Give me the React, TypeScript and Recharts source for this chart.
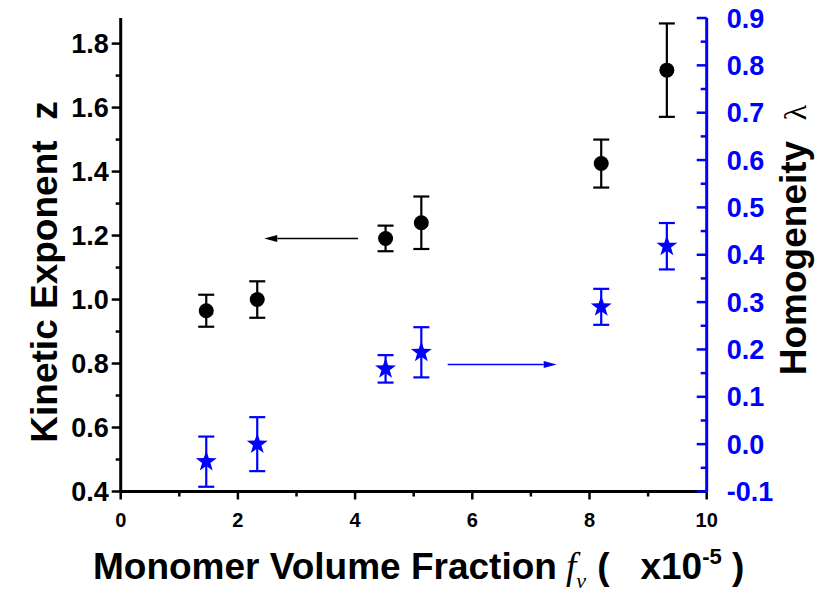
import React from 'react';
import { ComposedChart, Scatter, XAxis, YAxis, ErrorBar, ReferenceLine } from 'recharts';

// monomer volume fraction (x1e-5)
const fv = [1.46, 2.33, 4.52, 5.13, 8.2, 9.32];
// kinetic exponent z
const kinetic = [0.965, 1.0, 1.191, 1.24, 1.425, 1.717];
const kineticErr = [0.05, 0.057, 0.04, 0.082, 0.075, 0.146];
// homogeneity lambda
const homogeneity = [-0.037, 0.0, 0.159, 0.194, 0.29, 0.418];
const homogeneityErr = [0.053, 0.057, 0.029, 0.053, 0.038, 0.049];

const xTicks = [0, 1, 2, 3, 4, 5, 6, 7, 8, 9, 10];
const leftTicks = [0.4, 0.5, 0.6, 0.7, 0.8, 0.9, 1.0, 1.1, 1.2, 1.3, 1.4, 1.5, 1.6, 1.7, 1.8];
const rightTicks = [-0.1, -0.05, 0, 0.05, 0.1, 0.15, 0.2, 0.25, 0.3, 0.35, 0.4, 0.45, 0.5, 0.55, 0.6, 0.65, 0.7, 0.75, 0.8, 0.85, 0.9];

// arrows pointing at the axis each series belongs to
const blackArrow = { from: [4.05, 1.191], to: [2.45, 1.191] };
const blueArrow = { from: [5.58, 0.168], to: [7.44, 0.168] };

const kineticData = fv.map((x, i) => ({ x, y: kinetic[i], err: kineticErr[i] }));
const homogeneityData = fv.map((x, i) => ({ x, y: homogeneity[i], err: homogeneityErr[i] }));

const BLUE = '#0000FF';
const FONT = 'Arial, "Liberation Sans", sans-serif';
const SERIF = '"Liberation Serif", "Times New Roman", serif';

const BottomTick = (props: any) => {
  const { x, y, payload } = props;
  const v = payload.value;
  const major = v % 2 === 0;
  return (
    <g>
      <line x1={x} y1={y} x2={x} y2={y + (major ? 8 : 5)} stroke="#000" strokeWidth={2.5} />
      {major && (
        <text x={x} y={y + 35} textAnchor="middle" fontFamily={FONT} fontWeight="bold" fontSize={20} fill="#000">
          {v}
        </text>
      )}
    </g>
  );
};

const TopTick = (props: any) => {
  const { x, y, payload } = props;
  const major = payload.value % 2 === 0;
  return <line x1={x} y1={y} x2={x} y2={y + (major ? 8 : 5)} stroke="#000" strokeWidth={2.5} />;
};

const LeftTick = (props: any) => {
  const { x, y, payload } = props;
  const v = payload.value;
  const major = Math.round(v * 10) % 2 === 0;
  return (
    <g>
      <line x1={x} y1={y} x2={x - (major ? 9 : 5)} y2={y} stroke="#000" strokeWidth={2.5} />
      {major && (
        <text x={x - 12} y={y + 9.5} textAnchor="end" fontFamily={FONT} fontWeight="bold" fontSize={27} fill="#000">
          {v.toFixed(1)}
        </text>
      )}
    </g>
  );
};

const RightTick = (props: any) => {
  const { x, y, payload } = props;
  const v = payload.value;
  const major = Math.round(v * 100) % 10 === 0;
  return (
    <g>
      <line x1={x} y1={y} x2={x - (major ? 10 : 6)} y2={y} stroke={BLUE} strokeWidth={2.5} />
      {major && (
        <text x={x + 20} y={y + 9.5} textAnchor="start" fontFamily={FONT} fontWeight="bold" fontSize={27} fill={BLUE}>
          {v.toFixed(1)}
        </text>
      )}
    </g>
  );
};

const Dot = (p: any) => <circle cx={p.cx} cy={p.cy} r={7.5} fill="#000" />;

const Star = (p: any) => {
  const pts: string[] = [];
  for (let k = 0; k < 10; k++) {
    const r = k % 2 === 0 ? 11 : 4.4;
    const a = -Math.PI / 2 + (k * Math.PI) / 5;
    pts.push(`${p.cx + r * Math.cos(a)},${p.cy + r * Math.sin(a)}`);
  }
  return <polygon points={pts.join(' ')} fill={BLUE} />;
};

const arrow = (color: string, w: number) => (p: any) => {
  const { x1, y1, x2, y2 } = p;
  const dx = x2 - x1;
  const dy = y2 - y1;
  const len = Math.hypot(dx, dy) || 1;
  const ux = dx / len;
  const uy = dy / len;
  const hl = 13;
  const hw = 3.5;
  const bx = x2 - ux * hl;
  const by = y2 - uy * hl;
  return (
    <g>
      <line x1={x1} y1={y1} x2={bx} y2={by} stroke={color} strokeWidth={w} />
      <polygon points={`${x2},${y2} ${bx - uy * hw},${by + ux * hw} ${bx + uy * hw},${by - ux * hw}`} fill={color} />
    </g>
  );
};

const XLabel = () => (
  <text x={93} y={579} fontFamily={FONT} fontWeight="bold" fontSize={37} fill="#000" style={{ whiteSpace: 'pre' }}>
    Monomer Volume Fraction
    <tspan fontFamily={SERIF} fontStyle="italic" fontWeight="normal" dx={9}>f</tspan>
    <tspan fontFamily={SERIF} fontStyle="italic" fontWeight="normal" fontSize={22} dy={9}>v</tspan>
    <tspan dy={-9} dx={1}>{' (   x10'}</tspan>
    <tspan fontSize={22} dy={-15}>-5</tspan>
    <tspan dy={15}>{' )'}</tspan>
  </text>
);

const LeftLabel = () => (
  <text transform="translate(57, 272) rotate(-90)" x={0} y={0} textAnchor="middle" fontFamily={FONT} fontWeight="bold" fontSize={37} fill="#000" style={{ whiteSpace: 'pre' }}>
    {'Kinetic Exponent  z'}
  </text>
);

const RightLabel = () => (
  <text transform="translate(806, 240) rotate(-90)" x={0} y={0} textAnchor="middle" fontFamily={FONT} fontWeight="bold" fontSize={37} fill="#000" style={{ whiteSpace: 'pre' }}>
    {'Homogeneity  '}
    <tspan fontFamily={SERIF} fontWeight="normal" fontSize={32}>λ</tspan>
  </text>
);

export default function App() {
  return (
    <div style={{ position: 'absolute', left: 0, top: 0, width: 815, height: 594, background: '#fff' }}>
      <ComposedChart width={815} height={594} margin={{ top: 18, right: 20.3, bottom: 42.5, left: 20.7 }}>
        <XAxis
          xAxisId="bottom"
          type="number"
          dataKey="x"
          domain={[0, 10]}
          ticks={xTicks}
          interval={0}
          height={60}
          tickSize={0}
          tickMargin={0}
          tickLine={false}
          axisLine={{ stroke: '#000', strokeWidth: 3 }}
          tick={<BottomTick />}
          label={<XLabel />}
        />
        <XAxis
          xAxisId="top"
          orientation="top"
          type="number"
          dataKey="x"
          domain={[0, 10]}
          ticks={xTicks}
          interval={0}
          height={0}
          tickSize={0}
          tickMargin={0}
          tickLine={false}
          axisLine={{ stroke: '#000', strokeWidth: 3 }}
          tick={<TopTick />}
        />
        <YAxis
          yAxisId="left"
          type="number"
          domain={[0.4, 1.88]}
          ticks={leftTicks}
          interval={0}
          width={100}
          tickSize={0}
          tickMargin={0}
          tickLine={false}
          axisLine={{ stroke: '#000', strokeWidth: 3 }}
          tick={<LeftTick />}
          label={<LeftLabel />}
        />
        <YAxis
          yAxisId="right"
          orientation="right"
          type="number"
          domain={[-0.1, 0.9]}
          ticks={rightTicks}
          interval={0}
          width={88}
          tickSize={0}
          tickMargin={0}
          tickLine={false}
          axisLine={{ stroke: BLUE, strokeWidth: 3 }}
          tick={<RightTick />}
          label={<RightLabel />}
        />
        <ReferenceLine
          xAxisId="bottom"
          yAxisId="left"
          segment={[{ x: blackArrow.from[0], y: blackArrow.from[1] }, { x: blackArrow.to[0], y: blackArrow.to[1] }]}
          shape={arrow('#000', 1.5)}
        />
        <ReferenceLine
          xAxisId="bottom"
          yAxisId="right"
          segment={[{ x: blueArrow.from[0], y: blueArrow.from[1] }, { x: blueArrow.to[0], y: blueArrow.to[1] }]}
          shape={arrow(BLUE, 1.5)}
        />
        <Scatter xAxisId="bottom" yAxisId="left" data={kineticData} dataKey="y" shape={<Dot />} isAnimationActive={false}>
          <ErrorBar dataKey="err" direction="y" width={8} strokeWidth={2.2} stroke="#000" isAnimationActive={false} />
        </Scatter>
        <Scatter xAxisId="bottom" yAxisId="right" data={homogeneityData} dataKey="y" shape={<Star />} isAnimationActive={false}>
          <ErrorBar dataKey="err" direction="y" width={8} strokeWidth={2.2} stroke={BLUE} isAnimationActive={false} />
        </Scatter>
      </ComposedChart>
    </div>
  );
}
